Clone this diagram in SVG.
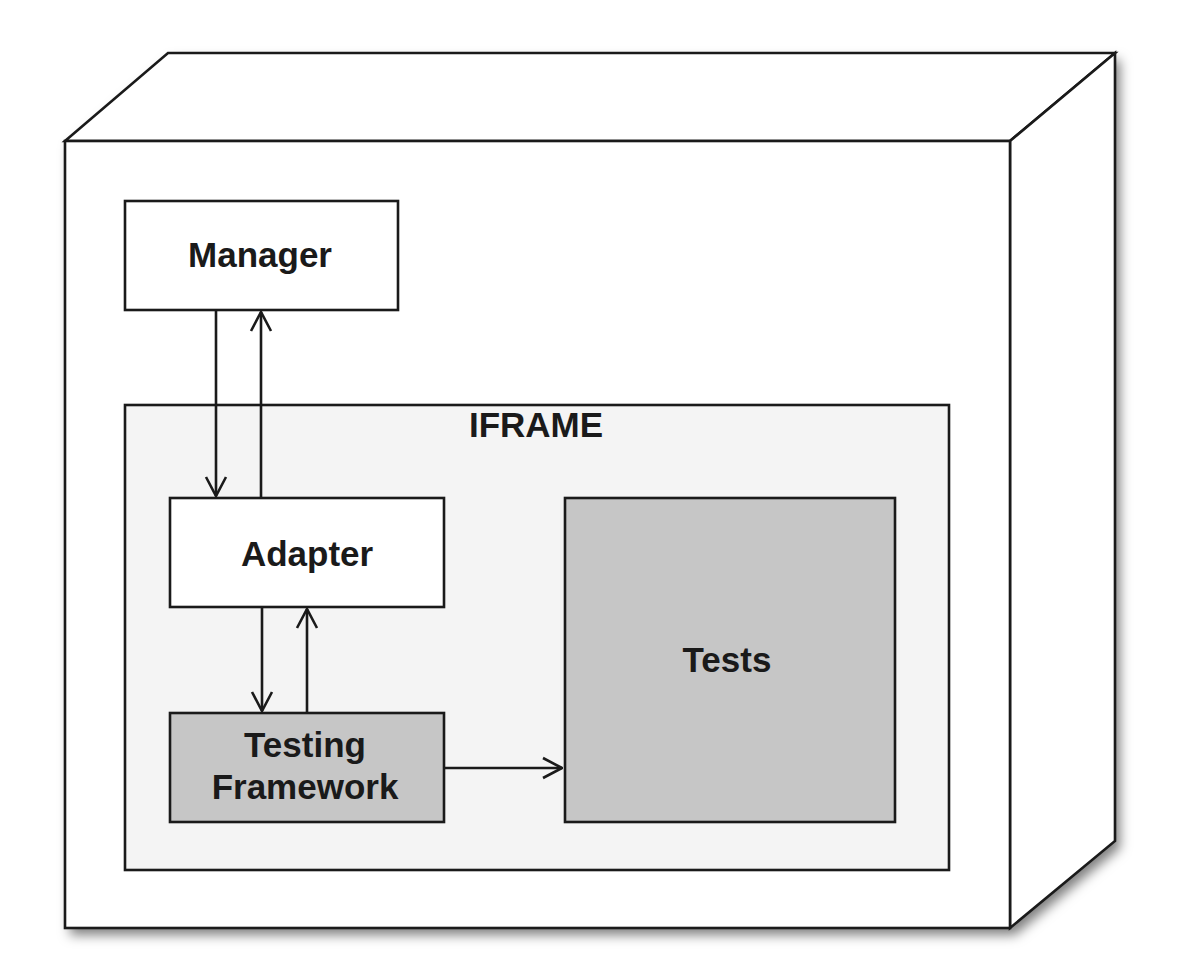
<svg xmlns="http://www.w3.org/2000/svg" width="1190" height="966" viewBox="0 0 1190 966">
<style>
.ln{stroke:#1a1a1a;stroke-width:2.6;stroke-linejoin:miter}
.lbl{font-family:"Liberation Sans",Arial,sans-serif;font-weight:bold;font-size:35px;fill:#1a1a1a;text-anchor:middle}
.conn{stroke:#1a1a1a;stroke-width:2.6;fill:none;marker-end:url(#arr)}
</style>
<defs>
<filter id="sh" x="-10%" y="-10%" width="125%" height="125%">
<feDropShadow dx="5" dy="7" stdDeviation="6" flood-color="#000" flood-opacity="0.5"/>
</filter>
<marker id="arr" viewBox="0 0 22 24" refX="21" refY="12" markerWidth="22" markerHeight="24" markerUnits="userSpaceOnUse" orient="auto">
<path d="M2,2 L21,12 L2,22" fill="none" stroke="#1a1a1a" stroke-width="2.6"/>
</marker>
</defs>
<rect width="1190" height="966" fill="#fff"/>
<g id="node-cube">
<g filter="url(#sh)">
<path d="M65,141 L168,53 L1115,53 L1115,841 L1010,928 L65,928 Z" fill="#fff"/>
</g>
<path class="ln" d="M65,141 L168,53 L1115,53 L1010,141 Z" fill="#fff"/>
<path class="ln" d="M1010,141 L1115,53 L1115,841 L1010,928 Z" fill="#fff"/>
<rect class="ln" x="65" y="141" width="945" height="787" fill="#fff"/>
</g>
<g id="node-manager">
<rect class="ln" x="125" y="201" width="273" height="109" fill="#fff"/>
<text class="lbl" x="260" y="267">Manager</text>
</g>
<g id="node-iframe">
<rect class="ln" x="125" y="405" width="824" height="465" fill="#f4f4f4"/>
<text class="lbl" x="536" y="437">IFRAME</text>
</g>
<g id="node-adapter">
<rect class="ln" x="170" y="498" width="274" height="109" fill="#fff"/>
<text class="lbl" x="307" y="566">Adapter</text>
</g>
<g id="node-testing-framework">
<rect class="ln" x="170" y="713" width="274" height="109" fill="#c6c6c6"/>
<text class="lbl" x="305" y="757">Testing</text>
<text class="lbl" x="305" y="799">Framework</text>
</g>
<g id="node-tests">
<rect class="ln" x="565" y="498" width="330" height="324" fill="#c6c6c6"/>
<text class="lbl" x="727" y="672">Tests</text>
</g>
<g id="connectors">
<path class="conn" d="M216,310 L216,496"/>
<path class="conn" d="M261,498 L261,312"/>
<path class="conn" d="M262,607 L262,711"/>
<path class="conn" d="M307,713 L307,609"/>
<path class="conn" d="M444,768 L562,768"/>
</g>
</svg>
